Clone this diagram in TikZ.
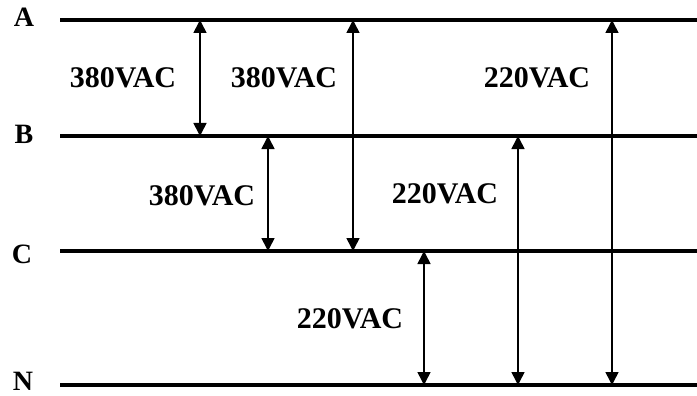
\documentclass[tikz,border=0pt]{standalone}
\usepackage{fontspec}
\setmainfont{Liberation Serif}
\usetikzlibrary{arrows.meta, positioning}

\begin{document}
\begin{tikzpicture}[x=1pt,y=-1pt,>={Triangle[length=13pt,width=13pt]},
        bus/.style={line width=3.2pt},
        volt/.style={<->, line width=1.6pt},
        phase/.style={anchor=base, inner sep=0pt, font=\fontsize{28}{30}\selectfont\bfseries},
        vlabel/.style={anchor=base, inner sep=0pt, font=\fontsize{30}{32}\selectfont\bfseries}]
        \useasboundingbox (0,0) rectangle (697,396);
        % bus lines
        \node[phase] (A) at (24,27) {A};
        \node[phase] (B) at (24,143) {B};
        \node[phase] (C) at (22,263) {C};
        \node[phase] (N) at (23,390) {N};
        \foreach \p/\y in {A/20, B/136, C/251, N/385} {
            \coordinate (\p-s) at (60,\y);
            \coordinate (\p-e) at (697,\y);
            \draw[bus] (\p-s) -- (\p-e);
        }
        % voltages
        \foreach \x/\t/\b in {200/A/B, 353/A/C, 612/A/N, 268/B/C, 518/B/N, 424/C/N}
            \draw[volt] (\x,0 |- \t-s) -- (\x,0 |- \b-s);
        \node[vlabel] (ab) at (123,88) {380VAC};
        \node[vlabel] (ac) at (284,88) {380VAC};
        \node[vlabel] (an) at (537,88) {220VAC};
        \node[vlabel] (bc) at (202,205) {380VAC};
        \node[vlabel] (bn) at (445,204) {220VAC};
        \node[vlabel] (cn) at (350,328) {220VAC};
    \end{tikzpicture}
\end{document}
